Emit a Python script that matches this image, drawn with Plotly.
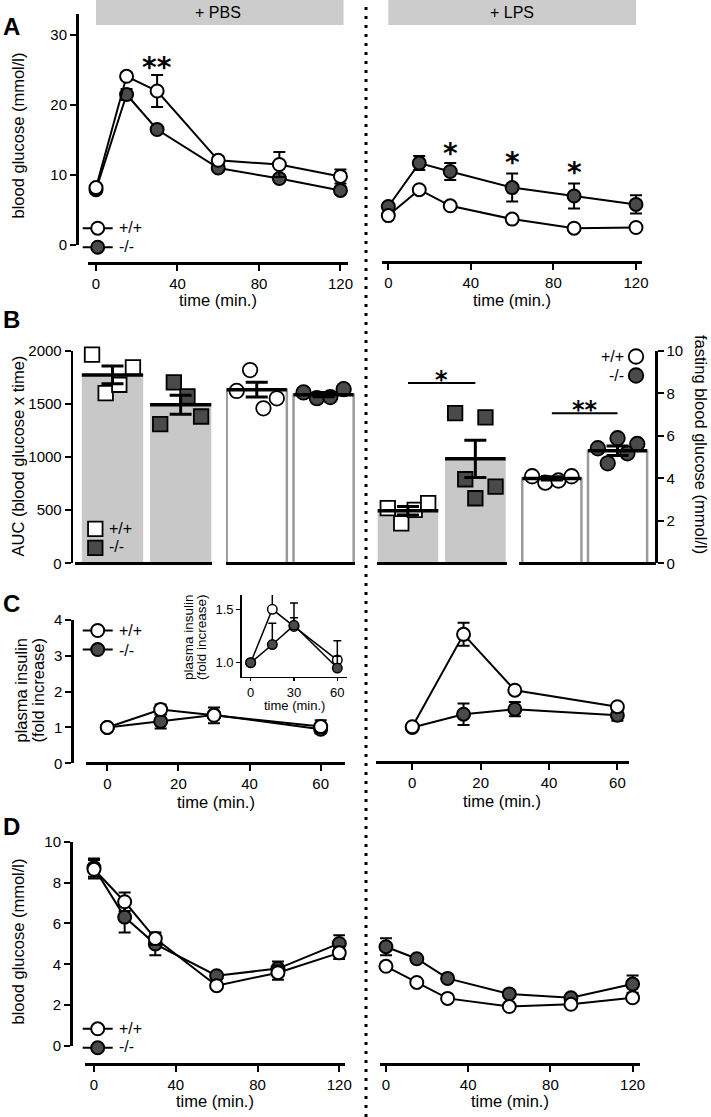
import numpy as np
import plotly.graph_objects as go

W, H = 711, 1117
FONT = "Liberation Sans, Arial, sans-serif"
DARK = "#4a4a4a"
BARGRAY = "#c8c8c8"
OUTLINE = "#9a9a9a"

# ---------------- data ----------------
# Panel A: glucose tolerance (mmol/l)
t_gtt = [0, 15, 30, 60, 90, 120]
a_pbs_wt = [8.2, 24.1, 22.0, 12.1, 11.5, 9.8]
a_pbs_wt_sem = [0.3, 0.5, 2.3, 0.5, 1.8, 1.0]
a_pbs_ko = [7.9, 21.5, 16.5, 11.0, 9.5, 7.8]
a_pbs_ko_sem = [0.3, 0.8, 0.5, 0.5, 0.5, 0.5]
a_lps_wt = [4.2, 7.9, 5.6, 3.7, 2.4, 2.5]
a_lps_wt_sem = [0.3, 0.4, 0.3, 0.3, 0.3, 0.3]
a_lps_ko = [5.5, 11.7, 10.5, 8.2, 7.0, 5.8]
a_lps_ko_sem = [0.5, 1.0, 1.2, 2.0, 1.8, 1.3]

# Panel B: AUC and fasting blood glucose
auc_pbs_means = [1775, 1494]
auc_pbs_sem = [83, 90]
auc_pbs_wt_pts = [1965, 1604, 1682, 1845]
auc_pbs_ko_pts = [1311, 1704, 1572, 1383]
fast_pbs_means = [8.18, 7.94]
fast_pbs_sem = [0.35, 0.1]
fast_pbs_wt_pts = [8.12, 9.1, 7.3, 7.77]
fast_pbs_ko_pts = [8.05, 7.78, 7.83, 8.2]
auc_lps_means = [496, 984]
auc_lps_sem = [40, 175]
auc_lps_wt_pts = [519, 377, 503, 566]
auc_lps_ko_pts = [1415, 792, 613, 1374, 723]
fast_lps_means = [4.0, 5.3]
fast_lps_sem = [0.08, 0.22]
fast_lps_wt_pts = [4.1, 3.8, 3.9, 4.1]
fast_lps_ko_pts = [5.42, 4.71, 5.89, 5.18, 5.62]

# Panel C: plasma insulin (fold increase)
t_ins = [0, 15, 30, 60]
c_pbs_wt = [1.0, 1.5, 1.34, 1.025]
c_pbs_wt_sem = [0.0, 0.14, 0.22, 0.18]
c_pbs_ko = [1.0, 1.17, 1.35, 0.95]
c_pbs_ko_sem = [0.0, 0.2, 0.07, 0.11]
c_lps_wt = [1.02, 3.6, 2.04, 1.58]
c_lps_wt_sem = [0.0, 0.32, 0.05, 0.05]
c_lps_ko = [1.0, 1.37, 1.51, 1.34]
c_lps_ko_sem = [0.0, 0.3, 0.2, 0.15]

# Panel D: insulin tolerance (mmol/l)
d_pbs_wt = [8.65, 7.06, 5.26, 2.95, 3.59, 4.56]
d_pbs_wt_sem = [0.45, 0.45, 0.3, 0.1, 0.35, 0.3]
d_pbs_ko = [8.73, 6.31, 4.99, 3.44, 3.79, 5.02]
d_pbs_ko_sem = [0.45, 0.75, 0.55, 0.1, 0.35, 0.4]
d_lps_wt = [3.9, 3.11, 2.33, 1.93, 2.04, 2.36]
d_lps_wt_sem = [0.1, 0.1, 0.1, 0.1, 0.1, 0.1]
d_lps_ko = [4.86, 4.27, 3.31, 2.55, 2.36, 3.03]
d_lps_ko_sem = [0.42, 0.1, 0.1, 0.1, 0.1, 0.42]

genotypes = ["+/+", "-/-"]


# ---------------- helpers ----------------
def px(p):
    return p / W


def py(p):
    return 1 - p / H


fig = go.Figure()


def curve(x, y, err, xa, ya, filled, size=13, lw=2, legend=None, rank=1,
          up_only=False, cap=6, ethick=2):
    ed = dict(type="data", array=err, color="black", thickness=ethick, width=cap)
    if up_only:
        ed["symmetric"] = False
        ed["arrayminus"] = [0] * len(err)
    fig.add_trace(go.Scatter(
        x=x, y=y, xaxis=xa, yaxis=ya, mode="lines+markers",
        line=dict(color="black", width=lw),
        marker=dict(size=size, color=DARK if filled else "white",
                    line=dict(color="black", width=lw)),
        error_y=ed, cliponaxis=False, name=" ",
        showlegend=legend is not None, legend=legend or "legend",
        legendrank=rank, hoverinfo="skip"))


def bar_group(means, sems, pts_list, xa, ya, gray, symbol, legend=None):
    bw = 0.9
    idx = list(range(len(means)))
    if gray:
        mk = dict(color=BARGRAY, line=dict(width=0))
    else:
        mk = dict(color="white", line=dict(color=OUTLINE, width=2.5))
    fig.add_trace(go.Bar(x=idx, y=means, width=bw, marker=mk, xaxis=xa, yaxis=ya,
                         showlegend=False, hoverinfo="skip"))
    for i, pts in enumerate(pts_list):
        n = len(pts)
        offs = np.linspace(-0.3, 0.3, n) if n > 1 else [0]
        fig.add_trace(go.Scatter(
            x=[i + o for o in offs], y=pts, xaxis=xa, yaxis=ya, mode="markers",
            marker=dict(symbol=symbol, size=14.5, color="white" if i == 0 else DARK,
                        line=dict(color="black", width=1.8)),
            cliponaxis=False, name=" ", showlegend=legend is not None,
            legend=legend or "legend", legendrank=i + 1, hoverinfo="skip"))
    for i, m in enumerate(means):
        fig.add_trace(go.Scatter(x=[i - bw / 2, i + bw / 2], y=[m, m], xaxis=xa, yaxis=ya,
                                 mode="lines", line=dict(color="black", width=3.5),
                                 showlegend=False, hoverinfo="skip", cliponaxis=False))
    fig.add_trace(go.Scatter(x=idx, y=means, xaxis=xa, yaxis=ya, mode="markers",
                             marker=dict(size=1, color="black"),
                             error_y=dict(type="data", array=sems, color="black",
                                          thickness=3, width=11),
                             showlegend=False, hoverinfo="skip", cliponaxis=False))


# ---------------- traces ----------------
# A
curve(t_gtt, a_pbs_ko, a_pbs_ko_sem, "x", "y", True, legend="legend", rank=2)
curve(t_gtt, a_pbs_wt, a_pbs_wt_sem, "x", "y", False, legend="legend", rank=1)
curve(t_gtt, a_lps_ko, a_lps_ko_sem, "x2", "y2", True)
curve(t_gtt, a_lps_wt, a_lps_wt_sem, "x2", "y2", False)

# B
bar_group(auc_pbs_means, auc_pbs_sem, [auc_pbs_wt_pts, auc_pbs_ko_pts], "x3", "y3", True,
          "square", legend="legend2")
bar_group(fast_pbs_means, fast_pbs_sem, [fast_pbs_wt_pts, fast_pbs_ko_pts], "x4", "y4", False,
          "circle")
bar_group(auc_lps_means, auc_lps_sem, [auc_lps_wt_pts, auc_lps_ko_pts], "x5", "y3", True,
          "square")
bar_group(fast_lps_means, fast_lps_sem, [fast_lps_wt_pts, fast_lps_ko_pts], "x6", "y4", False,
          "circle", legend="legend5")
# significance brackets
sig_auc_level = 1698
sig_fast_level = 7.07
fig.add_trace(go.Scatter(x=[0, 1], y=[sig_auc_level] * 2, xaxis="x5", yaxis="y3", mode="lines",
                         line=dict(color="black", width=2), showlegend=False, hoverinfo="skip"))
fig.add_trace(go.Scatter(x=[0, 1], y=[sig_fast_level] * 2, xaxis="x6", yaxis="y4", mode="lines",
                         line=dict(color="black", width=2), showlegend=False, hoverinfo="skip"))

# C
curve(t_ins, c_pbs_ko, c_pbs_ko_sem, "x7", "y5", True, legend="legend3", rank=2)
curve(t_ins, c_pbs_wt, c_pbs_wt_sem, "x7", "y5", False, legend="legend3", rank=1)
curve(t_ins, c_pbs_wt, c_pbs_wt_sem, "x8", "y6", False, size=9.5, lw=1.5, up_only=True,
      cap=4, ethick=1.5)
curve(t_ins, c_pbs_ko, c_pbs_ko_sem, "x8", "y6", True, size=9.5, lw=1.5, up_only=True,
      cap=4, ethick=1.5)
curve(t_ins, c_lps_ko, c_lps_ko_sem, "x9", "y7", True)
curve(t_ins, c_lps_wt, c_lps_wt_sem, "x9", "y7", False)

# D
curve(t_gtt, d_pbs_ko, d_pbs_ko_sem, "x10", "y8", True, legend="legend4", rank=2)
curve(t_gtt, d_pbs_wt, d_pbs_wt_sem, "x10", "y8", False, legend="legend4", rank=1)
curve(t_gtt, d_lps_ko, d_lps_ko_sem, "x11", "y9", True)
curve(t_gtt, d_lps_wt, d_lps_wt_sem, "x11", "y9", False)

# ---------------- axes ----------------
tickfont = dict(family=FONT, size=15, color="black")
inset_font = dict(family=FONT, size=13, color="black")
base = dict(showline=True, linecolor="black", linewidth=2.5, ticks="outside", ticklen=6,
            tickwidth=2, tickcolor="black", showgrid=False, zeroline=False,
            tickfont=tickfont, fixedrange=True, automargin=False)


def xax(d0, d1, r, pos=None, tickvals=None, anchor=None, **kw):
    a = dict(base, domain=[px(d0), px(d1)], range=r)
    if anchor:
        a["anchor"] = anchor
    else:
        a["anchor"] = "free"
        a["position"] = py(pos)
    if tickvals is None:
        a.update(ticks="", showticklabels=False, linewidth=3)
    else:
        a["tickvals"] = tickvals
    a.update(kw)
    return a


def yax(top, bottom, r, pos=None, tickvals=None, visible=True, anchor=None, **kw):
    a = dict(base, domain=[py(bottom), py(top)], range=r)
    if not visible:
        a["visible"] = False
        return a
    if anchor:
        a["anchor"] = anchor
    else:
        a["anchor"] = "free"
        a["position"] = px(pos)
    a["tickvals"] = tickvals
    a.update(kw)
    return a


layout_axes = dict(
    xaxis=xax(88, 348, [-3.93, 123.7], 263, [0, 40, 80, 120]),
    yaxis=yax(14, 245, [0, 33], 77, [0, 10, 20, 30]),
    xaxis2=xax(381.7, 642, [-3.2, 122.9], 262.3, [0, 40, 80, 120]),
    yaxis2=yax(14, 245, [0, 33], visible=False),
    xaxis3=xax(75, 212, [-0.55, 1.46], 563.3),
    xaxis4=xax(226, 355, [-0.46, 1.47], 563.3),
    xaxis5=xax(377, 507, [-0.46, 1.47], 563.3),
    xaxis6=xax(519, 656, [-0.5, 1.585], 563.3),
    yaxis3=yax(351, 563.3, [0, 2000], 71.7, [0, 500, 1000, 1500, 2000]),
    yaxis4=yax(351, 563.3, [0, 10], 656, [0, 2, 4, 6, 8, 10], side="right"),
    xaxis7=xax(86, 345, [-5.99, 66.83], 763.3, [0, 20, 40, 60]),
    yaxis5=yax(620, 763.3, [0, 4], 72.3, [0, 1, 2, 3, 4]),
    xaxis8=xax(241.7, 346.7, [-6.2, 66.5], tickvals=[0, 30, 60], anchor="y6",
               linewidth=1.5, tickwidth=1.5, ticklen=3, tickfont=inset_font),
    yaxis6=yax(595, 676.7, [0.869, 1.634], tickvals=[1.0, 1.5], anchor="x8",
               ticktext=["1.0", "1.5"], linewidth=1.5, tickwidth=1.5, ticklen=4,
               tickfont=inset_font),
    xaxis9=xax(375.7, 629, [-10.7, 63.4], 762.3, [0, 20, 40, 60]),
    yaxis7=yax(620, 763.3, [0, 4], visible=False),
    xaxis10=xax(85, 345, [-4.4, 122.8], 1064.3, [0, 40, 80, 120]),
    yaxis8=yax(841.7, 1046, [0, 10], 71, [0, 2, 4, 6, 8, 10]),
    xaxis11=xax(380, 640, [-2.9, 123.6], 1064.3, [0, 40, 80, 120]),
    yaxis9=yax(841.7, 1046, [0, 10], visible=False),
)

# ---------------- annotations ----------------
ann = []


def text(x, y, s, size=16.5, angle=0, xanchor="center", bold=False, xref="paper",
         yref="paper", family=FONT, yshift=0):
    ann.append(dict(x=x, y=y, xref=xref, yref=yref, text=f"<b>{s}</b>" if bold else s,
                    showarrow=False, textangle=angle, xanchor=xanchor, yanchor="middle",
                    yshift=yshift, font=dict(family=family, size=size, color="black")))


# panel letters
for letter, yy in [("A", 27), ("B", 319), ("C", 603), ("D", 826)]:
    text(px(11.5), py(yy), letter, size=24, bold=True)

# header labels
text(60, py(12.5), "+ PBS", size=16, xref="x")
text(60, py(12.5), "+ LPS", size=16, xref="x2")

# axis titles
text(px(17.5), py(136), "blood glucose (mmol/l)", angle=-90)
text(px(17.5), py(456), "AUC (blood glucose x time)", angle=-90)
text(px(20.5), py(690), "plasma insulin", angle=-90)
text(px(37.5), py(690), "(fold increase)", angle=-90)
text(px(17.5), py(942), "blood glucose (mmol/l)", angle=-90)
text(px(701), py(444), "fasting blood glucose (mmol/l)", angle=90)
text(px(188), py(637), "plasma insulin", size=13.5, angle=-90)
text(px(201), py(637), "(fold increase)", size=13.5, angle=-90)

for xc, yc in [(218, 300), (512, 300), (216, 802), (502, 801), (215, 1101), (510, 1101)]:
    text(px(xc), py(yc), "time (min.)")
text(px(294), py(705), "time (min.)", size=13)

# legend texts
for x0, ys in [(116.7, (227.7, 246)), (106.7, (528.3, 546.7)), (116.7, (630, 650)),
               (116.7, (1028.3, 1046.7))]:
    for g, yy in zip(genotypes, ys):
        text(px(x0), py(yy), g, size=16, xanchor="left")
for g, yy in zip(genotypes, (356, 375)):
    text(px(626), py(yy), g, size=16, xanchor="right")

# significance stars
STAR = "DejaVu Sans"
text(30, 26.2, "**", size=28, xref="x", yref="y", family=STAR, yshift=-6, bold=True)
for tt, lv in [(30, 14.0), (60, 12.6), (90, 11.2)]:
    text(tt, lv, "*", size=28, xref="x2", yref="y2", family=STAR, yshift=-6, bold=True)
text(0.5, 1776, "*", size=24, xref="x5", yref="y3", family=STAR, yshift=-5, bold=True)
text(0.5, 7.46, "**", size=24, xref="x6", yref="y4", family=STAR, yshift=-5, bold=True)
text(13.5, 4.23, "***", size=24, xref="x9", yref="y7", family=STAR, yshift=-5, bold=True)

# ---------------- shapes ----------------
shapes = [
    dict(type="rect", xref="x", yref="paper", x0=0, x1=121.5, y0=py(25), y1=1,
         fillcolor="#cccccc", line=dict(width=0), layer="below"),
    dict(type="rect", xref="x2", yref="paper", x0=0, x1=120, y0=py(25), y1=1,
         fillcolor="#cccccc", line=dict(width=0), layer="below"),
    dict(type="line", xref="paper", yref="paper", x0=px(366), x1=px(366), y0=0, y1=py(3),
         line=dict(color="black", width=3, dash="3px,6px")),
]

legend_style = dict(bgcolor="rgba(0,0,0,0)", font=dict(family=FONT, size=11),
                    xanchor="left", yanchor="top", tracegroupgap=0, itemclick=False,
                    itemdoubleclick=False)


def leg(cx, cy):
    # legend box placed so that its first symbol is centred on (cx, cy) pixels
    return dict(legend_style, x=px(cx - 19), y=py(cy - 14))


fig.update_layout(
    width=W, height=H, margin=dict(l=0, r=0, t=0, b=0, pad=0, autoexpand=False),
    paper_bgcolor="white", plot_bgcolor="rgba(0,0,0,0)",
    font=dict(family=FONT, color="black"),
    annotations=ann, shapes=shapes,
    legend=leg(96.7, 227.7),
    legend2=leg(94.3, 528.3),
    legend3=leg(96.7, 630),
    legend4=leg(96.7, 1028.3),
    legend5=leg(635, 356),
    **layout_axes,
)

fig.write_html("out.html", config={"staticPlot": True, "displayModeBar": False},
               post_script="document.body.style.margin='0';document.body.style.padding='0';")
